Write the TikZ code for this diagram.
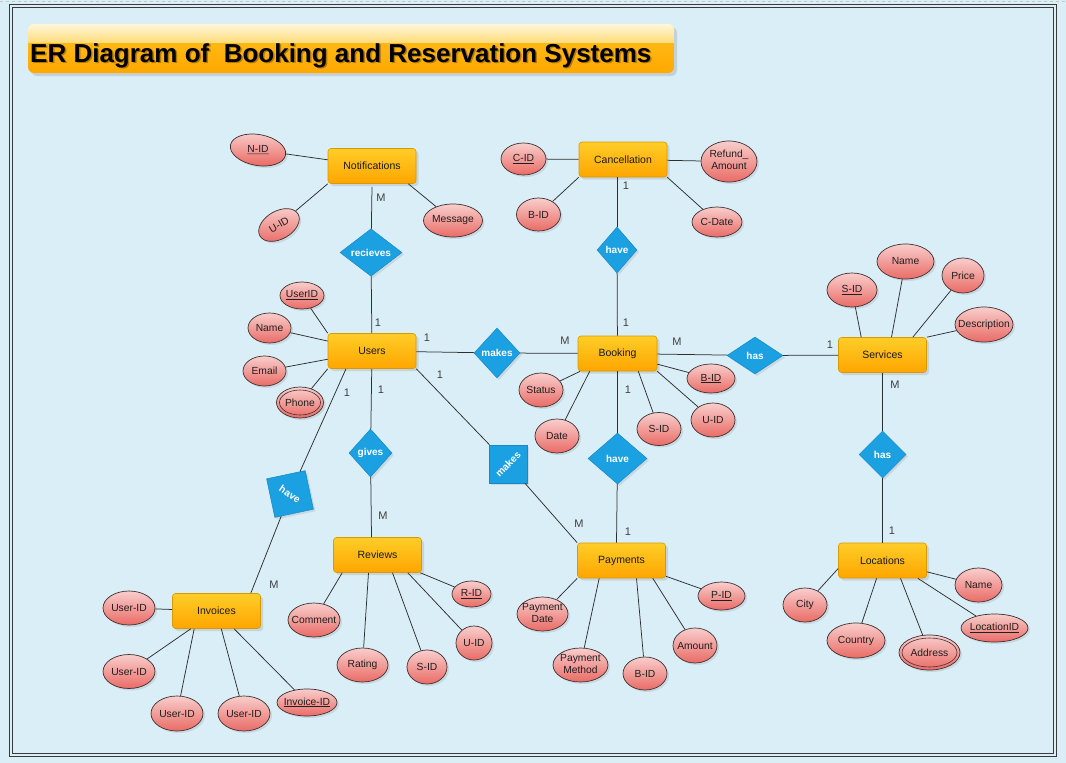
\documentclass[tikz,border=0pt]{standalone}
\usepackage{graphicx}
\usepackage{fontspec}
\setmainfont{Liberation Sans}
\usetikzlibrary{shapes.geometric,shadows}
\definecolor{bg}{HTML}{DAEEF8}
\definecolor{ent1}{HTML}{FFCD28}
\definecolor{ent2}{HTML}{FFA500}
\definecolor{entd}{HTML}{D79B00}
\definecolor{att1}{HTML}{F8CECC}
\definecolor{att2}{HTML}{EA6B66}
\definecolor{attd}{HTML}{3E3030}
\definecolor{relf}{HTML}{1BA1E2}
\definecolor{reld}{HTML}{1888C8}
\definecolor{lncol}{HTML}{2E2E2E}
\definecolor{cardc}{HTML}{404040}
\definecolor{tit1}{HTML}{FFC21F}
\definecolor{tit2}{HTML}{FFA800}
\definecolor{gl1}{HTML}{FFF7DA}
\definecolor{gl2}{HTML}{FFDC7A}
\definecolor{framec}{HTML}{3A3A3A}
\newcommand{\attxt}[1]{\makebox[0pt]{#1}}
\begin{document}
\begin{tikzpicture}[x=1pt,y=-1pt,
  ent/.style={rectangle, rounded corners=3pt, draw=entd, line width=0.6pt, top color=ent1, bottom color=ent2,
    minimum width=88, minimum height=35, inner sep=0, font=\fontsize{10.5}{12}\selectfont, text=black!90,
    drop shadow={shadow xshift=2.5pt, shadow yshift=-2.5pt, opacity=0.22}},
  att/.style={ellipse, draw=attd, line width=0.7pt, top color=att1, bottom color=att2, inner sep=0,
    font=\fontsize{10.3}{11.8}\selectfont, text=black!88,
    drop shadow={shadow xshift=2pt, shadow yshift=-2pt, opacity=0.2}},
  sz/.style 2 args={minimum width=#1, minimum height=#2},
  rel/.style={diamond, draw=reld, line width=0.5pt, fill=relf, inner sep=0, text=white,
    font=\bfseries\fontsize{10}{12}\selectfont,
    drop shadow={shadow xshift=2pt, shadow yshift=-2pt, opacity=0.2}},
  conn/.style={draw=lncol, line width=0.75pt},
  card/.style={font=\fontsize{11}{12}\selectfont, text=cardc, inner sep=0}]
\useasboundingbox (0,0) rectangle (1066,763);
\fill[bg] (0,0) rectangle (1066,763);
\draw[gray!45, dashed, line width=1pt] (0,1.5) -- (1066,1.5);
\draw[framec, line width=0.9pt] (9,4.5) rectangle (1056,756);
\draw[framec, line width=0.7pt] (12,7.5) rectangle (1053,753);

% title
\node[rectangle, rounded corners=6pt, top color=tit1, bottom color=tit2, minimum width=646, minimum height=49, inner sep=0,
  drop shadow={shadow xshift=3pt, shadow yshift=-3pt, opacity=0.25}] (titlebox) at (351,48.5) {};
\begin{scope}
  \clip[rounded corners=6pt] (titlebox.north west) rectangle (titlebox.south east);
  \shade[top color=gl1, bottom color=gl2] (titlebox.north west) rectangle ([yshift=-19pt]titlebox.north east);
\end{scope}
\node[anchor=base west, inner sep=0, font=\bfseries\fontsize{26}{30}\selectfont, text=black, opacity=0.3] (titleshadow) at (31.5,63.5) {ER Diagram of\ \ Booking and Reservation Systems};
\node[anchor=base west, inner sep=0, font=\bfseries\fontsize{26}{30}\selectfont, text=black] (title) at (30,62) {ER Diagram of\ \ Booking and Reservation Systems};

% entities
\node[ent] (notif) at (372,166) {Notifications};
\node[ent] (cancel) at (623,159.5) {Cancellation};
\node[ent] (users) at (372,351) {Users};
\node[ent, minimum width=79] (booking) at (617.5,353.5) {Booking};
\node[ent] (services) at (882.5,355) {Services};
\node[ent] (reviews) at (377.5,555) {Reviews};
\node[ent] (payments) at (621.5,560.5) {Payments};
\node[ent] (invoices) at (216.5,611) {Invoices};
\node[ent] (locations) at (882.5,560.5) {Locations};

% relationships
\node[rel, sz={62}{47}] (recv) at (371,252.5) {recieves};
\node[rel, sz={40}{46}] (have1) at (617,250) {have};
\node[rel, sz={46}{50}] (makes) at (497,353) {makes};
\node[rel, sz={56}{37}] (has1) at (755,355.5) {has};
\node[rel, sz={47}{47}] (has2) at (882.5,454.5) {has};
\node[rel, sz={43}{48}] (gives) at (370.5,453) {gives};
\node[rel, sz={59}{51}] (have3) at (617.5,458.5) {have};
\node[rel, sz={54}{54}, rotate=45] (makes2) at (508,464) {makes};
\node[rel, sz={56}{56}, rotate=-33] (have2) at (290,494) {have};

% attributes: notifications
\node[att, sz={56}{31}, rotate=-10] (nid) at (258,150) {\rotatebox{10}{\attxt{\underline{N-ID}}}};
\node[att, sz={44}{28}, rotate=30] (nuid) at (279,225) {\attxt{U-ID}};
\node[att, sz={59}{33}] (nmsg) at (453,220.5) {\attxt{Message}};
% users
\node[att, sz={44}{27}] (uid) at (302,295.5) {\attxt{\underline{UserID}}};
\node[att, sz={43}{30}] (uname) at (269.5,328) {\attxt{Name}};
\node[att, sz={43}{30}] (uemail) at (264.5,371) {\attxt{Email}};
\node[att, sz={47}{31}] (uphone) at (300,402.5) {\attxt{Phone}};
\draw[attd, line width=0.6pt] (uphone.center) ellipse [x radius=20.5pt, y radius=12.5pt];
% cancellation
\node[att, sz={45}{32}] (cid) at (523.5,159) {\attxt{\underline{C-ID}}};
\node[att, sz={44}{33}] (cbid) at (538.5,214.5) {\attxt{B-ID}};
\node[att, sz={56}{41}] (crefund) at (729,161.5) {\attxt{\begin{tabular}{@{}c@{}}Refund\_\\Amount\end{tabular}}};
\node[att, sz={50}{30}] (cdate) at (717,222) {\attxt{C-Date}};
% booking
\node[att, sz={44}{34}] (bstatus) at (541,390) {\attxt{Status}};
\node[att, sz={44}{34}] (bdate) at (557,436) {\attxt{Date}};
\node[att, sz={44}{33}] (bsid) at (659,429) {\attxt{S-ID}};
\node[att, sz={44}{34}] (buid) at (713,420) {\attxt{U-ID}};
\node[att, sz={48}{29}] (bbid) at (711,378.5) {\attxt{\underline{B-ID}}};
% services
\node[att, sz={50}{34}] (ssid) at (852,290) {\attxt{\underline{S-ID}}};
\node[att, sz={57}{35}] (sname) at (905.5,261.5) {\attxt{Name}};
\node[att, sz={42}{35}] (sprice) at (963,275.5) {\attxt{Price}};
\node[att, sz={58}{35}] (sdesc) at (984,324.5) {\attxt{Description}};
% locations
\node[att, sz={44}{34}] (lcity) at (805,605) {\attxt{City}};
\node[att, sz={58}{35}] (lcountry) at (856,640.5) {\attxt{Country}};
\node[att, sz={61}{35}] (laddr) at (929.5,652.5) {\attxt{Address}};
\draw[attd, line width=0.6pt] (laddr.center) ellipse [x radius=27.5pt, y radius=14.5pt];
\node[att, sz={67}{28}] (lid) at (994.5,628) {\attxt{\underline{LocationID}}};
\node[att, sz={47}{34}] (lname) at (978.5,585) {\attxt{Name}};
% payments
\node[att, sz={51}{34}] (pdate) at (542.5,614) {\attxt{\begin{tabular}{@{}c@{}}Payment\\Date\end{tabular}}};
\node[att, sz={55}{34}] (pmethod) at (580.5,665) {\attxt{\begin{tabular}{@{}c@{}}Payment\\Method\end{tabular}}};
\node[att, sz={44}{33}] (pbid) at (645,673.5) {\attxt{B-ID}};
\node[att, sz={44}{35}] (pamount) at (695,645.5) {\attxt{Amount}};
\node[att, sz={47}{28}] (ppid) at (721.5,596) {\attxt{\underline{P-ID}}};
% reviews
\node[att, sz={52}{34}] (rcomment) at (314,620) {\attxt{Comment}};
\node[att, sz={51}{34}] (rrating) at (362.5,665) {\attxt{Rating}};
\node[att, sz={40}{34}] (rsid) at (427,667) {\attxt{S-ID}};
\node[att, sz={36}{34}] (ruid) at (474,643) {\attxt{U-ID}};
\node[att, sz={39}{26}] (rrid) at (471.5,594) {\attxt{\underline{R-ID}}};
% invoices
\node[att, sz={52}{34}] (iu1) at (129,608) {\attxt{User-ID}};
\node[att, sz={52}{34}] (iu2) at (129,671.5) {\attxt{User-ID}};
\node[att, sz={52}{35}] (iu3) at (177,713.5) {\attxt{User-ID}};
\node[att, sz={52}{35}] (iu4) at (244,713.5) {\attxt{User-ID}};
\node[att, sz={60}{27}] (iid) at (307,702.5) {\attxt{\underline{Invoice-ID}}};

% connectors
\draw[conn] (nid) -- (notif);
\draw[conn] (nuid) -- (notif.south west);
\draw[conn] (nmsg) -- ([xshift=-8pt]notif.south east);
\draw[conn] ([yshift=-3pt]notif.south) -- (recv);
\draw[conn] (recv) -- (users);
\draw[conn] (uid) -- (users.north west);
\draw[conn] (uname) -- (users);
\draw[conn] (uemail) -- (users);
\draw[conn] (uphone) -- (users.south west);
\draw[conn] (users) -- (makes);
\draw[conn] (users.south east) -- (makes2);
\draw[conn] (users) -- (gives);
\draw[conn] ([xshift=-26pt]users.south) -- (have2);
\draw[conn] (gives) -- ([xshift=-6pt]reviews.north);
\draw[conn] (have2) -- ([xshift=-10pt]invoices.north east);
\draw[conn] (makes) -- (booking);
\draw[conn] (cid) -- (cancel);
\draw[conn] (cbid) -- (cancel.south west);
\draw[conn] (crefund) -- (cancel);
\draw[conn] (cdate) -- (cancel.south east);
\draw[conn] ([xshift=-6pt]cancel.south) -- (have1);
\draw[conn] (have1) -- (booking);
\draw[conn] (booking) -- (has1);
\draw[conn] (has1) -- (services);
\draw[conn] (bstatus) -- (booking);
\draw[conn] (bdate) -- ([xshift=12pt]booking.south west);
\draw[conn] (bsid) -- ([xshift=-19pt]booking.south east);
\draw[conn] (buid) -- (booking.south east);
\draw[conn] (bbid) -- (booking);
\draw[conn] (booking) -- (have3);
\draw[conn] (have3) -- ([xshift=-5pt]payments.north);
\draw[conn] (makes2) -- (payments.north west);
\draw[conn] (pdate) -- (payments.south west);
\draw[conn] (pmethod) -- ([xshift=22pt]payments.south west);
\draw[conn] (pbid) -- ([xshift=15pt]payments.south);
\draw[conn] (pamount) -- ([xshift=-13pt]payments.south east);
\draw[conn] (ppid) -- (payments);
\draw[conn] (ssid) -- ([xshift=23pt]services.north west);
\draw[conn] (sname) -- ([xshift=9pt]services.north);
\draw[conn] (sprice) -- ([xshift=-14pt]services.north east);
\draw[conn] (sdesc) -- (services.north east);
\draw[conn] (services) -- (has2);
\draw[conn] (has2) -- (locations);
\draw[conn] (lcity) -- ([yshift=-8pt]locations.west);
\draw[conn] (lcountry) -- (locations);
\draw[conn] (laddr) -- ([xshift=18pt]locations.south);
\draw[conn] (lid) -- ([xshift=-9pt]locations.south east);
\draw[conn] (lname) -- (locations);
\draw[conn] (rcomment) -- ([xshift=9pt]reviews.south west);
\draw[conn] (rrating) -- ([xshift=-9pt]reviews.south);
\draw[conn] (rsid) -- ([xshift=15pt]reviews.south);
\draw[conn] (ruid) -- ([xshift=-14pt]reviews.south east);
\draw[conn] (rrid) -- (reviews);
\draw[conn] (iu1) -- (invoices);
\draw[conn] (iu2) -- (invoices);
\draw[conn] (iu3) -- ([xshift=22pt]invoices.south west);
\draw[conn] (iu4) -- (invoices);
\draw[conn] (iid) -- (invoices);

% cardinalities
\node[card] (k1) at (381,198) {M};
\node[card] (k2) at (378,323) {1};
\node[card] (k3) at (427,338) {1};
\node[card] (k4) at (565,341) {M};
\node[card] (k5) at (440,375) {1};
\node[card] (k6) at (381,390) {1};
\node[card] (k7) at (347,393) {1};
\node[card] (k8) at (383,516) {M};
\node[card] (k9) at (274,585) {M};
\node[card] (k10) at (579,524) {M};
\node[card] (k11) at (628,532) {1};
\node[card] (k12) at (628,390) {1};
\node[card] (k13) at (626,186) {1};
\node[card] (k14) at (626,323) {1};
\node[card] (k15) at (677,342) {M};
\node[card] (k16) at (830,345) {1};
\node[card] (k17) at (895,385) {M};
\node[card] (k18) at (892,531) {1};
\end{tikzpicture}
\end{document}
